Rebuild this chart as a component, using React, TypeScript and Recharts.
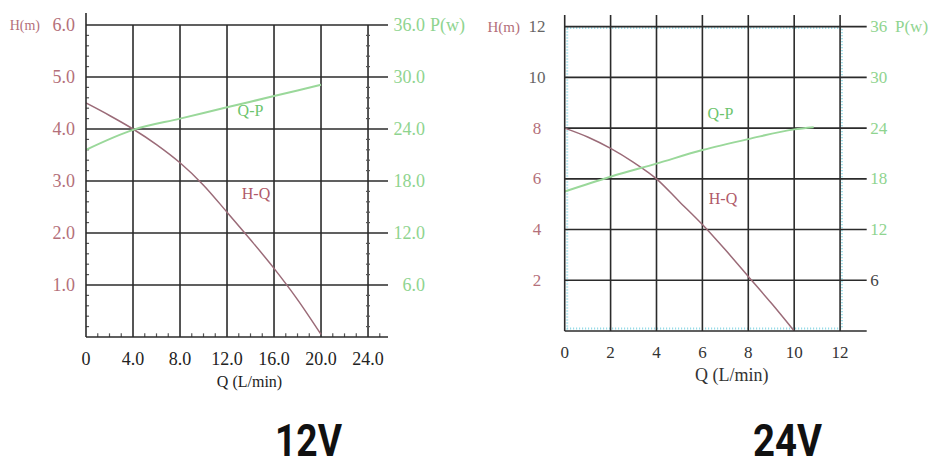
import {
  LineChart,
  Line,
  XAxis,
  YAxis,
  ReferenceLine,
  ReferenceArea,
} from "recharts";

const SERIF = '"Liberation Serif", "DejaVu Serif", serif';
const RED = "#b4707a";
const GREEN = "#8fd48f";
const DARK = "#444";
const GRID = "#2b2b2b";
const MINOR = "#555";
const HQ_LINE = "#9b6b78";
const QP_LINE = "#9ad89a";

// 12V chart
const q12Ticks = [0, 4, 8, 12, 16, 20, 24];
const h12Ticks = [0, 1, 2, 3, 4, 5, 6];
const p12Ticks = [0, 6, 12, 18, 24, 30, 36];
const hq12Flow = [0, 2, 4, 6, 8, 10, 12, 14, 16, 18, 20];
const hq12Head = [4.5, 4.26, 4.0, 3.7, 3.35, 2.92, 2.4, 1.87, 1.32, 0.72, 0.05];
const qp12Flow = [0, 4, 8, 12, 16, 20];
const qp12Power = [21.6, 23.9, 25.2, 26.5, 27.8, 29.1];

// 24V chart
const q24Ticks = [0, 2, 4, 6, 8, 10, 12];
const h24Ticks = [0, 2, 4, 6, 8, 10, 12];
const p24Ticks = [0, 6, 12, 18, 24, 30, 36];
const hq24Flow = [0, 1, 2, 3, 4, 5, 6, 7, 8, 9, 10];
const hq24Head = [8, 7.65, 7.2, 6.65, 6.0, 5.1, 4.2, 3.2, 2.15, 1.1, 0];
const qp24Flow = [0, 2, 4, 6, 8, 10, 10.85];
const qp24Power = [16.5, 18.25, 19.8, 21.4, 22.7, 23.85, 24.1];

const hq12 = hq12Flow.map((q, i) => ({ q, v: hq12Head[i] }));
const qp12 = qp12Flow.map((q, i) => ({ q, v: qp12Power[i] }));
const hq24 = hq24Flow.map((q, i) => ({ q, v: hq24Head[i] }));
const qp24 = qp24Flow.map((q, i) => ({ q, v: qp24Power[i] }));

// minor tick positions of the 12V frame
const q12Minor = Array.from({ length: 25 }, (_, i) => i + 1).filter((v) => v % 4 !== 0);
const h12Minor = Array.from({ length: 30 }, (_, i) => Math.round((i + 1) * 2) / 10).filter(
  (v) => !Number.isInteger(v)
);

type TickOpts = {
  dx: number;
  dy: number;
  anchor: "start" | "middle" | "end";
  size: number;
  color: (v: number) => string;
  format: (v: number) => string;
  extra?: { value: number; text: string; dx: number; anchor: "start" | "end"; size: number; color: string };
};

function axisTick(o: TickOpts) {
  return (props: any) => {
    const { x, y, payload } = props;
    const v = payload.value;
    const label = o.format(v);
    return (
      <g>
        {label !== "" && (
          <text
            x={x + o.dx}
            y={y + o.dy}
            textAnchor={o.anchor}
            dominantBaseline="central"
            fontFamily={SERIF}
            fontSize={o.size}
            fill={o.color(v)}
          >
            {label}
          </text>
        )}
        {o.extra && v === o.extra.value && (
          <text
            x={x + o.extra.dx}
            y={y + o.dy}
            textAnchor={o.extra.anchor}
            dominantBaseline="central"
            fontFamily={SERIF}
            fontSize={o.extra.size}
            fill={o.extra.color}
          >
            {o.extra.text}
          </text>
        )}
      </g>
    );
  };
}

const fixed1 = (v: number) => (v === 0 ? "" : v.toFixed(1));

// grid drawn from the tick arrays, so no extra edge lines appear
function gridLines(xTicks: number[], yTicks: number[]) {
  return [
    ...xTicks
      .filter((v) => v !== 0)
      .map((v) => (
        <ReferenceLine key={`gx${v}`} xAxisId="q" yAxisId="h" x={v} stroke={GRID} strokeWidth={1.6} />
      )),
    ...yTicks
      .filter((v) => v !== 0)
      .map((v) => (
        <ReferenceLine key={`gy${v}`} xAxisId="q" yAxisId="h" y={v} stroke={GRID} strokeWidth={1.6} />
      )),
  ];
}

function Chart12V() {
  return (
    <LineChart width={470} height={400} margin={{ top: 25, right: 0, bottom: 0, left: 0 }}>
      <XAxis
        xAxisId="q"
        type="number"
        dataKey="q"
        domain={[0, 25.7]}
        ticks={q12Ticks}
        allowDataOverflow
        height={63}
        tickSize={0}
        tickLine={false}
        axisLine={{ stroke: GRID, strokeWidth: 1.6 }}
        tick={axisTick({
          dx: 0,
          dy: 19.5,
          anchor: "middle",
          size: 18,
          color: () => "#222",
          format: (v) => (v === 0 ? "0" : v.toFixed(1)),
        })}
      />
      <YAxis
        yAxisId="h"
        type="number"
        domain={[0, 6]}
        ticks={h12Ticks}
        allowDataOverflow
        width={86}
        tickSize={0}
        tickLine={false}
        axisLine={{ stroke: GRID, strokeWidth: 1.6 }}
        tick={axisTick({
          dx: -9,
          dy: 0,
          anchor: "end",
          size: 18,
          color: () => RED,
          format: fixed1,
          extra: { value: 6, text: "H(m)", dx: -44, anchor: "end", size: 14, color: RED },
        })}
      />
      <YAxis
        yAxisId="p"
        orientation="right"
        type="number"
        domain={[0, 36]}
        ticks={p12Ticks}
        allowDataOverflow
        width={82}
        tickSize={0}
        tickLine={false}
        axisLine={false}
        tick={axisTick({
          dx: 35,
          dy: 0,
          anchor: "end",
          size: 18,
          color: () => GREEN,
          format: fixed1,
          extra: { value: 36, text: "P(w)", dx: 40, anchor: "start", size: 18, color: GREEN },
        })}
      />
      {gridLines(q12Ticks, h12Ticks)}
      <ReferenceLine
        xAxisId="q"
        yAxisId="h"
        segment={[{ x: 0, y: 6 }, { x: 0, y: 6.23 }]}
        stroke={GRID}
        strokeWidth={1.6}
        ifOverflow="visible"
      />
      {h12Minor.map((v) => (
        <ReferenceLine
          key={`l${v}`}
          xAxisId="q"
          yAxisId="h"
          segment={[{ x: 0, y: v }, { x: 0.26, y: v }]}
          stroke={MINOR}
          strokeWidth={1.2}
          ifOverflow="visible"
        />
      ))}
      {h12Minor.map((v) => (
        <ReferenceLine
          key={`r${v}`}
          xAxisId="q"
          yAxisId="h"
          segment={[{ x: 23.83, y: v }, { x: 24.17, y: v }]}
          stroke={MINOR}
          strokeWidth={1.2}
          ifOverflow="visible"
        />
      ))}
      {q12Minor.map((v) => (
        <ReferenceLine
          key={`b${v}`}
          xAxisId="q"
          yAxisId="h"
          segment={[{ x: v, y: 0 }, { x: v, y: 0.07 }]}
          stroke={MINOR}
          strokeWidth={1.2}
          ifOverflow="visible"
        />
      ))}
      <Line
        xAxisId="q"
        yAxisId="h"
        data={hq12}
        dataKey="v"
        type="monotone"
        stroke={HQ_LINE}
        strokeWidth={1.5}
        dot={false}
        isAnimationActive={false}
      />
      <Line
        xAxisId="q"
        yAxisId="p"
        data={qp12}
        dataKey="v"
        type="monotone"
        stroke={QP_LINE}
        strokeWidth={2}
        dot={false}
        isAnimationActive={false}
      />
    </LineChart>
  );
}

function Chart24V() {
  return (
    <LineChart width={465} height={400} margin={{ top: 15, right: 0, bottom: 0, left: 0 }}>
      <XAxis
        xAxisId="q"
        type="number"
        dataKey="q"
        domain={[0, 13.16]}
        ticks={q24Ticks}
        allowDataOverflow
        height={69}
        tickSize={0}
        tickLine={false}
        axisLine={{ stroke: GRID, strokeWidth: 1.6 }}
        tick={axisTick({
          dx: 0,
          dy: 19.5,
          anchor: "middle",
          size: 17,
          color: () => "#333",
          format: (v) => String(v),
        })}
      />
      <YAxis
        yAxisId="h"
        type="number"
        domain={[0, 12.46]}
        ticks={h24Ticks}
        allowDataOverflow
        width={99.7}
        tickSize={0}
        tickLine={false}
        axisLine={{ stroke: GRID, strokeWidth: 1.6 }}
        tick={axisTick({
          dx: -25.7,
          dy: 0,
          anchor: "middle",
          size: 17,
          color: (v) => (v >= 10 ? "#666" : RED),
          format: (v) => (v === 0 ? "" : String(v)),
          extra: { value: 12, text: "H(m)", dx: -42.7, anchor: "end", size: 15, color: RED },
        })}
      />
      <YAxis
        yAxisId="p"
        orientation="right"
        type="number"
        domain={[0, 37.38]}
        ticks={p24Ticks}
        allowDataOverflow
        width={63.3}
        tickSize={0}
        tickLine={false}
        axisLine={false}
        tick={axisTick({
          dx: 1.5,
          dy: 0,
          anchor: "start",
          size: 17,
          color: (v) => (v === 6 ? DARK : GREEN),
          format: (v) => (v === 0 ? "" : String(v)),
          extra: { value: 36, text: "P(w)", dx: 26.3, anchor: "start", size: 17, color: GREEN },
        })}
      />
      {gridLines(q24Ticks, h24Ticks)}
      <ReferenceArea
        xAxisId="q"
        yAxisId="h"
        x1={0.11}
        x2={12.08}
        y1={0.1}
        y2={11.95}
        fill="none"
        fillOpacity={0}
        stroke="#86d6e4"
        strokeWidth={2}
        strokeDasharray="1 2"
      />
      <Line
        xAxisId="q"
        yAxisId="h"
        data={hq24}
        dataKey="v"
        type="monotone"
        stroke={HQ_LINE}
        strokeWidth={1.5}
        dot={false}
        isAnimationActive={false}
      />
      <Line
        xAxisId="q"
        yAxisId="p"
        data={qp24}
        dataKey="v"
        type="monotone"
        stroke={QP_LINE}
        strokeWidth={2}
        dot={false}
        isAnimationActive={false}
      />
    </LineChart>
  );
}

export default function App() {
  return (
    <div
      style={{
        position: "absolute",
        left: 0,
        top: 0,
        width: 930,
        height: 461,
        background: "#fff",
        overflow: "hidden",
      }}
    >
      <div style={{ position: "absolute", left: 0, top: 0 }}>
        <Chart12V />
      </div>
      <div style={{ position: "absolute", left: 465, top: 0 }}>
        <Chart24V />
      </div>
      <svg
        width={930}
        height={461}
        style={{ position: "absolute", left: 0, top: 0, pointerEvents: "none" }}
      >
        <g fontFamily={SERIF} dominantBaseline="central" textAnchor="middle">
          <text x={250.5} y={110} fontSize={16} fill="#6cc46c">Q-P</text>
          <text x={256} y={193.5} fontSize={16} fill="#b05a6a">H-Q</text>
          <text x={249.5} y={381} fontSize={16} fill="#222">Q (L/min)</text>
          <text x={720.5} y={113.3} fontSize={16} fill="#6cc46c">Q-P</text>
          <text x={723} y={198} fontSize={16} fill="#b05a6a">H-Q</text>
          <text x={731.7} y={375} fontSize={18} fill="#333">Q (L/min)</text>
        </g>
        <g fontFamily="Roboto, 'Liberation Sans', sans-serif" fontWeight={700} fontSize={45} fill="#111" textAnchor="middle">
          <text x={308.5} y={456} textLength={67} lengthAdjust="spacingAndGlyphs">12V</text>
          <text x={787.5} y={456} textLength={69} lengthAdjust="spacingAndGlyphs">24V</text>
        </g>
      </svg>
    </div>
  );
}
